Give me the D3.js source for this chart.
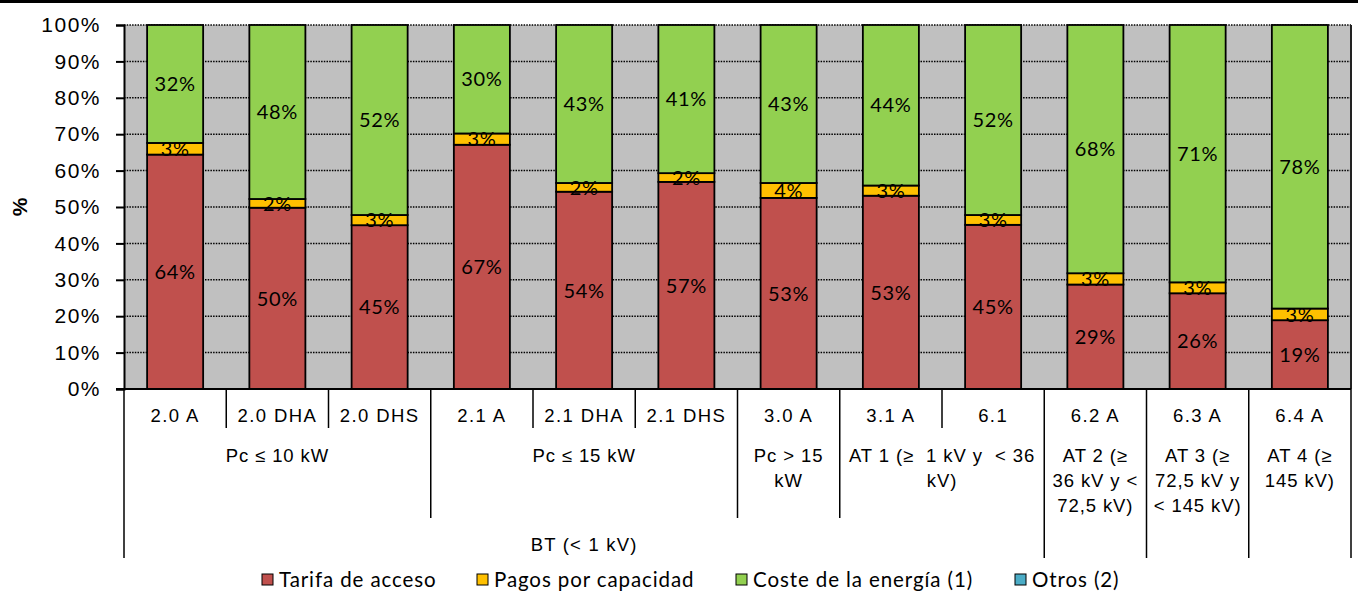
<!DOCTYPE html>
<html><head><meta charset="utf-8">
<script src="https://cdn.jsdelivr.net/npm/d3@7"></script>
<style>
html,body{margin:0;padding:0;background:#fff;}
svg{display:block;}
</style></head>
<body>
<svg id="chart" width="1358" height="592"></svg>
<script>
const categories = ["2.0 A","2.0 DHA","2.0 DHS","2.1 A","2.1 DHA","2.1 DHS","3.0 A","3.1 A","6.1","6.2 A","6.3 A","6.4 A"];
const tarifaAcceso = [64.4,49.8,45.0,67.1,54.2,56.9,52.5,53.1,45.1,28.7,26.3,18.9];
const pagosCapacidad = [3.2,2.4,2.8,3.1,2.4,2.4,4.1,2.8,2.7,3.1,3.0,3.2];
const costeEnergia = [32.4,47.8,52.2,29.8,43.4,40.7,43.4,44.1,52.2,68.2,70.7,77.9];
const otros = [0,0,0,0,0,0,0,0,0,0,0,0];
const seriesNames = ["Tarifa de acceso","Pagos por capacidad","Coste de la energía (1)","Otros (2)"];
const seriesColors = ["#C0504D","#FFC000","#92D050","#4BACC6"];
const yTicks = [0,10,20,30,40,50,60,70,80,90,100];
// second level groups: [start index, end index, text lines]
const level2Groups = [
  [0,2,["Pc ≤ 10 kW"]],
  [3,5,["Pc ≤ 15 kW"]],
  [6,6,["Pc > 15","kW"]],
  [7,8,["AT 1 (≥  1 kV y  < 36","kV)"]],
  [9,9,["AT 2 (≥","36 kV y <","72,5 kV)"]],
  [10,10,["AT 3 (≥","72,5 kV y","< 145 kV)"]],
  [11,11,["AT 4 (≥","145 kV)"]]
];
const level3Groups = [
  [0,8,"BT (< 1 kV)"],
  [9,9,""],
  [10,10,""],
  [11,11,""]
];

const svg = d3.select("#chart");
const L = 124, R = 1351, T = 25, B = 389;
const x = d3.scaleBand().domain(categories).range([L,R]).paddingInner(0.452).paddingOuter(0.226);
const y = d3.scaleLinear().domain([0,100]).range([B,T]);
const step = x.step();
const boundary = i => L + step*i; // boundary before category i
const armFont = "Arial, 'Liberation Sans', sans-serif";
const calFont = "Lato, 'Open Sans', sans-serif";

// top black border
svg.append("rect").attr("x",0).attr("y",0).attr("width",1358).attr("height",3).attr("fill","#000");

// plot background
svg.append("rect").attr("x",L).attr("y",T).attr("width",R-L).attr("height",B-T).attr("fill","#C0C0C0");

// gridlines
svg.append("g").selectAll("line").data(yTicks.filter(d=>d>0)).join("line")
  .attr("x1",L).attr("x2",R).attr("y1",d=>y(d)).attr("y2",d=>y(d))
  .attr("stroke","#000").attr("stroke-width",1.5).attr("stroke-dasharray","1.5,1.2");

// stacked data
const table = categories.map((c,i)=>({cat:c, s0:tarifaAcceso[i], s1:pagosCapacidad[i], s2:costeEnergia[i], s3:otros[i]}));
const stack = d3.stack().keys(["s0","s1","s2","s3"])(table);

const gBars = svg.append("g");
stack.forEach((layer,k)=>{
  gBars.append("g").selectAll("rect").data(layer.filter(d=>d[1]-d[0]>0)).join("rect")
    .attr("x",d=>x(d.data.cat)).attr("width",x.bandwidth())
    .attr("y",d=>y(d[1])).attr("height",d=>y(d[0])-y(d[1]))
    .attr("fill",seriesColors[k]).attr("stroke","#000").attr("stroke-width",1.8);
});
const fmt = d3.format(".0f");
stack.forEach((layer,k)=>{
  gBars.append("g").selectAll("text").data(layer.filter(d=>d[1]-d[0]>=0.5)).join("text")
    .attr("x",d=>x(d.data.cat)+x.bandwidth()/2)
    .attr("y",d=>(y(d[0])+y(d[1]))/2)
    .attr("dy","0.36em")
    .attr("text-anchor","middle")
    .attr("font-family",calFont)
    .attr("font-size",20)
    .attr("letter-spacing","0.6px")
    .attr("fill","#000")
    .text(d=>fmt(d[1]-d[0])+"%");
});

// right border
svg.append("line").attr("x1",R).attr("x2",R).attr("y1",T).attr("y2",B).attr("stroke","#222").attr("stroke-width",2);

// y axis
const yAxis = svg.append("g").attr("transform",`translate(${L},0)`)
  .call(d3.axisLeft(y).tickValues(yTicks).tickFormat(d=>d+"%").tickSize(8).tickPadding(15));
yAxis.attr("font-family",armFont).attr("font-size",21);
yAxis.select(".domain").attr("stroke","#000").attr("stroke-width",2);
yAxis.selectAll(".tick line").attr("stroke","#000").attr("stroke-width",2);
yAxis.selectAll(".tick text").attr("font-family",armFont).attr("font-size",21)
  .attr("letter-spacing","1.5px").attr("fill","#000");

// x axis baseline
svg.append("line").attr("x1",L-8).attr("x2",R).attr("y1",B).attr("y2",B).attr("stroke","#000").attr("stroke-width",2);

// y title
svg.append("text").attr("transform","translate(27,207) rotate(-90)")
  .attr("text-anchor","middle").attr("font-family",armFont)
  .attr("font-size",21).attr("font-weight","bold").text("%");

// category axis labels
svg.append("g").selectAll("text").data(categories).join("text")
  .attr("x",d=>x(d)+x.bandwidth()/2).attr("y",422)
  .attr("text-anchor","middle").attr("font-family",armFont).attr("font-size",18.5)
  .attr("letter-spacing","1.4px").text(d=>d);

// separators
const depth = new Array(categories.length+1).fill(428);
level2Groups.forEach(g=>{depth[g[0]]=Math.max(depth[g[0]],518); depth[g[1]+1]=Math.max(depth[g[1]+1],518);});
level3Groups.forEach(g=>{depth[g[0]]=558; depth[g[1]+1]=558;});
svg.append("g").selectAll("line").data(depth).join("line")
  .attr("x1",(d,i)=>boundary(i)).attr("x2",(d,i)=>boundary(i))
  .attr("y1",B).attr("y2",d=>d).attr("stroke","#000").attr("stroke-width",1.5);

// level 2 labels
const g2 = svg.append("g");
level2Groups.forEach(g=>{
  const cx = (boundary(g[0])+boundary(g[1]+1))/2;
  const t = g2.append("text").attr("text-anchor","middle").attr("font-family",armFont)
    .attr("font-size",18.5).attr("letter-spacing","0.9px").style("white-space","pre");
  g[2].forEach((line,j)=>{
    t.append("tspan").attr("x",cx).attr("y",462+j*25).text(line);
  });
});
// level 3 labels
svg.append("g").selectAll("text").data(level3Groups).join("text")
  .attr("x",g=>(boundary(g[0])+boundary(g[1]+1))/2).attr("y",551)
  .attr("text-anchor","middle").attr("font-family",armFont).attr("font-size",18.5)
  .attr("letter-spacing","1.2px").text(g=>g[2]);

// legend
const legendX = [262,477,736,1015];
const lg = svg.append("g");
seriesNames.forEach((n,i)=>{
  lg.append("rect").attr("x",legendX[i]).attr("y",574).attr("width",11).attr("height",11)
    .attr("fill",seriesColors[i]).attr("stroke","#000").attr("stroke-width",1);
  lg.append("text").attr("x",legendX[i]+17).attr("y",587)
    .attr("font-family",calFont).attr("font-size",20.5).attr("letter-spacing","0.9px").text(n);
});
</script>
</body></html>
